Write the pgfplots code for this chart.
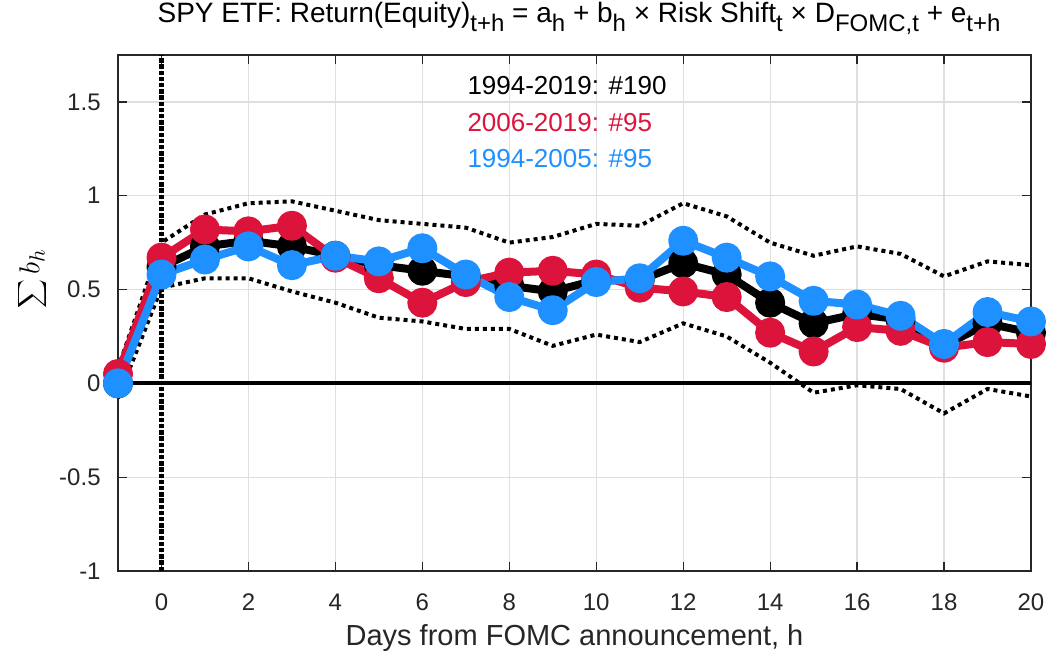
\documentclass[border=0pt]{standalone}
\usepackage{pgfplots}
\pgfplotsset{compat=1.18}
\usepackage{fontspec}
\setmainfont{Liberation Sans}
\definecolor{crim}{RGB}{220,20,60}
\definecolor{dblue}{RGB}{30,144,255}
\definecolor{axgray}{RGB}{38,38,38}
\definecolor{gridgray}{RGB}{223,223,223}
\newcommand\sub[1]{\raisebox{-0.55ex}{\fontsize{12}{13}\selectfont #1}}

\pgfplotstableread{
h   all   late  early up    lo
-1  0.00  0.05  0.00  0.08  -0.08
0   0.62  0.67  0.58  0.75  0.51
1   0.73  0.82  0.66  0.90  0.56
2   0.76  0.81  0.73  0.96  0.56
3   0.73  0.84  0.63  0.97  0.49
4   0.68  0.67  0.68  0.92  0.43
5   0.63  0.56  0.65  0.87  0.35
6   0.60  0.43  0.72  0.85  0.33
7   0.57  0.54  0.58  0.83  0.29
8   0.52  0.59  0.46  0.75  0.29
9   0.49  0.60  0.39  0.78  0.20
10  0.55  0.58  0.54  0.85  0.26
11  0.55  0.51  0.56  0.84  0.22
12  0.64  0.49  0.76  0.96  0.32
13  0.58  0.46  0.67  0.89  0.25
14  0.43  0.27  0.57  0.75  0.11
15  0.32  0.17  0.44  0.68  -0.05
16  0.37  0.30  0.42  0.73  -0.01
17  0.34  0.28  0.36  0.69  -0.03
18  0.20  0.19  0.21  0.57  -0.16
19  0.32  0.22  0.38  0.65  -0.03
20  0.27  0.21  0.33  0.63  -0.07
}\spy

\begin{document}
\begin{tikzpicture}
\begin{axis}[name=ax,
  scale only axis, width=456.5pt, height=258pt,
  xmin=-1, xmax=20, ymin=-1, ymax=1.75,
  xtick={0,2,...,20},
  ytick={-1,-0.5,0,0.5,1,1.5},
  yticklabels={-1,-0.5,0,0.5,1,1.5},
  xticklabels={0,2,4,6,8,10,12,14,16,18,20},
  tick align=inside, major tick length=4.5pt,
  axis line style={axgray, line width=0.6pt},
  tick style={axgray, line width=0.6pt},
  grid=major, grid style={gridgray, line width=0.6pt},
  ticklabel style={font=\fontsize{12}{14}\selectfont, text=axgray},
  xticklabel style={anchor=base, yshift=-19.5pt, inner sep=0pt},
  yticklabel style={anchor=east, xshift=-8.5pt, inner sep=0pt},
  xlabel={Days from FOMC announcement, h},
  xlabel style={at={(axis description cs:0.5,0)}, anchor=base, yshift=-37pt,
    font=\fontsize{14.5}{17}\selectfont, text=axgray},
  ylabel={$\displaystyle\sum b_h$},
  ylabel style={at={(axis description cs:-0.094,0.566)}, anchor=center,
    font=\fontsize{15}{18}\selectfont},
  title={SPY ETF: Return(Equity)\sub{t+h} = a\sub{h} + b\sub{h} × Risk Shift\sub{t} × D\sub{FOMC,t} + e\sub{t+h}},
  title style={at={(axis description cs:0.505,1)}, anchor=base, yshift=10pt,
    inner sep=0pt, font=\fontsize{14}{16}\selectfont},
  clip=false,
]
\addplot[black, line width=2pt, dash pattern=on 2pt off 2pt] table[x=h, y=up] {\spy};
\addplot[black, line width=2pt, dash pattern=on 2pt off 2pt] table[x=h, y=lo] {\spy};
\addplot[black, line width=2pt] coordinates {(-1,0) (20,0)};
\addplot[black, line width=4pt, line join=round, mark=*, mark size=5.5pt,
  mark options={solid, fill=black}] table[x=h, y=all] {\spy};
\addplot[crim, line width=4pt, line join=round, mark=*, mark size=5.5pt,
  mark options={solid, fill=crim}] table[x=h, y=late] {\spy};
\addplot[dblue, line width=4pt, line join=round, mark=*, mark size=5.5pt,
  mark options={solid, fill=dblue}] table[x=h, y=early] {\spy};
\addplot[black, line width=2.4pt, dash pattern=on 2.2pt off 0.9pt] coordinates {(0,-1) (0,1.75)};
\node[anchor=base west, inner sep=0pt, font=\fontsize{13}{16}\selectfont, text=black]
  at (axis cs:7.03,1.54) {1994-2019: \#190};
\node[anchor=base west, inner sep=0pt, font=\fontsize{13}{16}\selectfont, text=crim]
  at (axis cs:7.03,1.341) {2006-2019: \#95};
\node[anchor=base west, inner sep=0pt, font=\fontsize{13}{16}\selectfont, text=dblue]
  at (axis cs:7.03,1.149) {1994-2005: \#95};
\end{axis}
\pgfresetboundingbox
\path[use as bounding box] ([xshift=-59pt,yshift=-44.5pt]ax.south west)
  rectangle ([xshift=9.5pt,yshift=27.5pt]ax.north east);
\end{tikzpicture}
\end{document}
